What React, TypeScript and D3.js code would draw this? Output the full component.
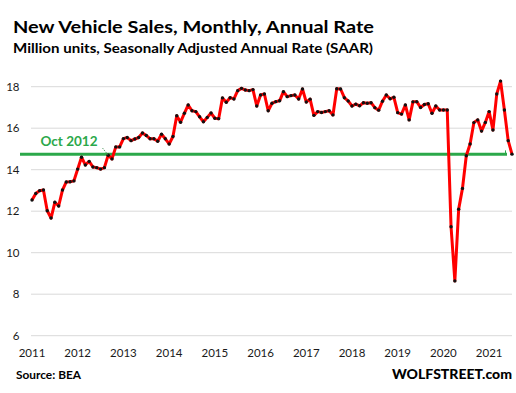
import React, { useEffect, useRef } from 'react';
import * as d3 from 'd3';

// monthly SAAR, million units, Jan 2011 .. Jul 2021
const sales2011 = [12.54, 12.85, 12.99, 13.02, 12.02, 11.67, 12.43, 12.25, 13.02, 13.41, 13.42, 13.46];
const sales2012 = [14.03, 14.6, 14.23, 14.4, 14.13, 14.1, 14.03, 14.1, 14.7, 14.52, 15.1, 15.1];
const sales2013 = [15.5, 15.55, 15.4, 15.48, 15.55, 15.77, 15.65, 15.49, 15.49, 15.37, 15.71, 15.49];
const sales2014 = [15.24, 15.6, 16.6, 16.29, 16.72, 17.12, 16.84, 16.8, 16.55, 16.31, 16.52, 16.73];
const sales2015 = [16.48, 16.46, 17.46, 17.25, 17.47, 17.41, 17.81, 17.92, 17.84, 17.81, 17.86, 17.07];
const sales2016 = [17.6, 17.65, 16.84, 17.2, 17.28, 17.32, 17.76, 17.52, 17.57, 17.6, 17.41, 17.89];
const sales2017 = [17.26, 17.4, 16.62, 16.8, 16.76, 16.8, 16.84, 16.64, 17.9, 17.89, 17.47, 17.31];
const sales2018 = [17.07, 17.16, 17.08, 17.23, 17.2, 17.23, 16.99, 16.87, 17.3, 17.6, 17.42, 17.49];
const sales2019 = [16.75, 16.68, 17.12, 16.4, 17.27, 17.28, 17.0, 17.14, 17.18, 16.72, 17.07, 16.88];
const sales2020 = [16.88, 16.88, 11.25, 8.64, 12.1, 13.1, 14.67, 15.24, 16.27, 16.4, 15.86, 16.28];
const sales2021 = [16.8, 15.91, 17.65, 18.27, 16.88, 15.4, 14.75];

const sales = [
  ...sales2011, ...sales2012, ...sales2013, ...sales2014, ...sales2015, ...sales2016,
  ...sales2017, ...sales2018, ...sales2019, ...sales2020, ...sales2021,
];

const yearLabels = ['2011', '2012', '2013', '2014', '2015', '2016', '2017', '2018', '2019', '2020', '2021'];
const yTicks = [6, 8, 10, 12, 14, 16, 18];

const refLabel = 'Oct 2012';
const refLevel = 14.74;
const refIndex = 20;

const font = 'Lato, "Open Sans", sans-serif';
const green = '#2ba84a';

const App = () => {
  const svgRef = useRef<SVGSVGElement>(null);

  useEffect(() => {
    const svg = d3.select(svgRef.current);
    svg.selectAll('*').remove();

    const x = d3.scaleLinear().domain([0, sales.length - 1]).range([32, 512]);
    const y = d3.scaleLinear().domain([6, 18]).range([335.7, 86.7]);

    // gridlines
    svg.append('g')
      .selectAll('line')
      .data(yTicks)
      .join('line')
        .attr('x1', 31)
        .attr('x2', 512)
        .attr('y1', d => y(d))
        .attr('y2', d => y(d))
        .attr('stroke', '#d9d9d9')
        .attr('stroke-width', 1);

    // y labels
    svg.append('g')
      .selectAll('text')
      .data(yTicks)
      .join('text')
        .attr('x', 19.5)
        .attr('y', d => y(d) + 4)
        .attr('text-anchor', 'end')
        .attr('font-family', font)
        .attr('font-size', 11.5)
        .attr('fill', '#1a1a1a')
        .text(d => d);

    // x labels
    svg.append('g')
      .selectAll('text')
      .data(yearLabels)
      .join('text')
        .attr('x', (d, i) => x(i * 12))
        .attr('y', 356.5)
        .attr('text-anchor', 'middle')
        .attr('font-family', font)
        .attr('font-size', 11.5)
        .attr('fill', '#1a1a1a')
        .text(d => d);

    // reference level
    svg.append('line')
      .attr('x1', 20)
      .attr('x2', 507)
      .attr('y1', y(refLevel))
      .attr('y2', y(refLevel))
      .attr('stroke', green)
      .attr('stroke-width', 3);

    svg.append('line')
      .attr('x1', 505.5)
      .attr('x2', 505.5)
      .attr('y1', y(refLevel) - 4)
      .attr('y2', y(refLevel))
      .attr('stroke', green)
      .attr('stroke-width', 1);

    // sales line
    const line = d3.line<number>()
      .x((d, i) => x(i))
      .y(d => y(d));

    svg.append('path')
      .datum(sales)
      .attr('d', line)
      .attr('fill', 'none')
      .attr('stroke', '#ff0000')
      .attr('stroke-width', 3)
      .attr('stroke-linejoin', 'round');

    svg.append('g')
      .selectAll('circle')
      .data(sales)
      .join('circle')
        .attr('cx', (d, i) => x(i))
        .attr('cy', d => y(d))
        .attr('r', 1.7)
        .attr('fill', '#111');

    // annotation
    svg.append('line')
      .attr('x1', 102.5)
      .attr('y1', 148)
      .attr('x2', x(refIndex))
      .attr('y2', y(sales[refIndex]))
      .attr('stroke', '#3a8a4a')
      .attr('stroke-width', 0.8)
      .attr('stroke-dasharray', '1.5,1');

    svg.append('text')
      .attr('x', 40.5)
      .attr('y', 145.5)
      .attr('font-family', font)
      .attr('font-weight', 'bold')
      .attr('font-size', 13.5)
      .attr('fill', green)
      .text(refLabel);

    // titles
    svg.append('text')
      .attr('x', 13)
      .attr('y', 33.3)
      .attr('font-family', font)
      .attr('font-weight', 'bold')
      .attr('font-size', 17.5)
      .attr('fill', '#000')
      .attr('textLength', 361)
      .attr('lengthAdjust', 'spacingAndGlyphs')
      .text('New Vehicle Sales, Monthly, Annual Rate');

    svg.append('text')
      .attr('x', 13)
      .attr('y', 53.3)
      .attr('font-family', font)
      .attr('font-weight', 'bold')
      .attr('font-size', 12.5)
      .attr('fill', '#000')
      .attr('textLength', 360)
      .attr('lengthAdjust', 'spacingAndGlyphs')
      .text('Million units, Seasonally Adjusted Annual Rate (SAAR)');

    svg.append('text')
      .attr('x', 16)
      .attr('y', 378.5)
      .attr('font-family', font)
      .attr('font-weight', 'bold')
      .attr('font-size', 11)
      .attr('fill', '#000')
      .attr('textLength', 65)
      .attr('lengthAdjust', 'spacingAndGlyphs')
      .text('Source: BEA');

    svg.append('text')
      .attr('x', 392)
      .attr('y', 379)
      .attr('font-family', font)
      .attr('font-weight', 900)
      .attr('font-size', 12.5)
      .attr('fill', '#000')
      .attr('textLength', 120)
      .attr('lengthAdjust', 'spacingAndGlyphs')
      .text('WOLFSTREET.com');
  }, []);

  return (
    <svg
      ref={svgRef}
      width={516}
      height={393}
      style={{ position: 'absolute', left: 0, top: 0, background: '#fff' }}
    />
  );
};

export default App;
